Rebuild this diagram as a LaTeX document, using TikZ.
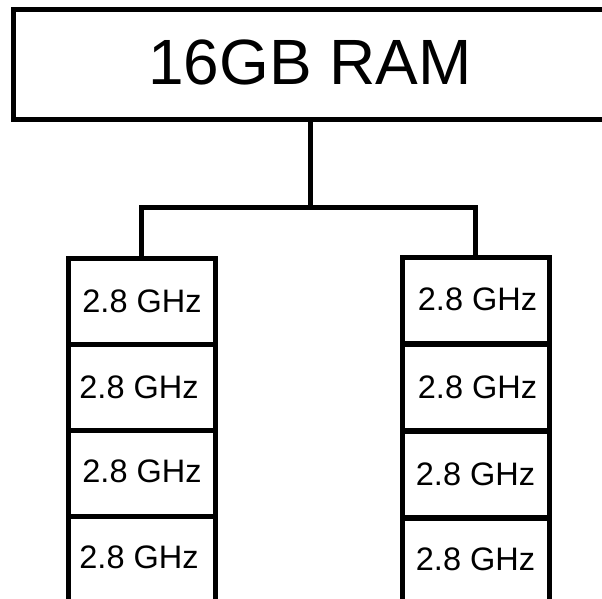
\documentclass[tikz,border=0pt]{standalone}
\usepackage{fontspec}
\setmainfont{Liberation Sans}
\begin{document}
\begin{tikzpicture}[x=1pt,y=-1pt,
  box/.style={draw=black,line width=5pt,inner sep=0pt,outer sep=0pt,minimum height=86pt,font=\fontsize{32.5}{32.5}\selectfont},
  lbox/.style={box,minimum width=147pt},
  rbox/.style={box,minimum width=147pt},
  link/.style={draw=black,line width=5pt}]
\useasboundingbox (0,0) rectangle (602,599);
\clip (0,0) rectangle (602,599);
\node[draw=black,line width=5pt,inner sep=0pt,outer sep=0pt,minimum width=594pt,minimum height=110pt,font=\fontsize{64}{64}\selectfont] (ram) at (310,65) {\raisebox{5.5pt}{16GB RAM}};
\node[lbox] (l1) at (141.5,301) {\hspace*{1pt}2.8 GHz};
\node[lbox] (l2) at (141.5,387) {\hspace*{-5pt}2.8 GHz};
\node[lbox] (l3) at (141.5,473) {\hspace*{1pt}\raisebox{3pt}{2.8 GHz}};
\node[lbox] (l4) at (141.5,559) {\hspace*{-5pt}\raisebox{3pt}{2.8 GHz}};
\node[rbox] (r1) at (475.5,300.5) {\hspace*{4pt}\raisebox{3pt}{2.8 GHz}};
\node[rbox] (r2) at (475.5,387.5) {\hspace*{4pt}\raisebox{-2pt}{2.8 GHz}};
\node[rbox] (r3) at (475.5,474.5) {2.8 GHz};
\node[rbox] (r4) at (475.5,561.5) {\raisebox{5pt}{2.8 GHz}};
\coordinate (j) at (310,207);
\draw[link] (ram.south) -- (j);
\draw[link] (j) -| (l1.north);
\draw[link] (j) -| (r1.north);
\end{tikzpicture}
\end{document}
